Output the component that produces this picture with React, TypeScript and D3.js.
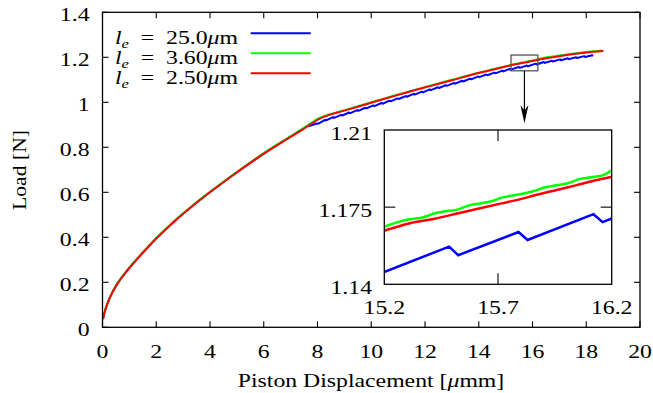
import React from "react";
import * as d3 from "d3";

// ---------- data ----------
const xTicks = [0, 2, 4, 6, 8, 10, 12, 14, 16, 18, 20];
const yTicks = [0, 0.2, 0.4, 0.6, 0.8, 1, 1.2, 1.4];
const yTickLabels = ["0", "0.2", "0.4", "0.6", "0.8", "1", "1.2", "1.4"];
const insetXTicks = [15.2, 15.7, 16.2];
const insetXLabels = ["15.2", "15.7", "16.2"];
const insetYTicks = [1.14, 1.175, 1.21];
const insetYLabels = ["1.14", "1.175", "1.21"];
const legendLabels = ["25.0", "3.60", "2.50"];

// l_e = 25.0 µm
const blue: [number, number][] = [
  [0.02, 0.038], [0.06, 0.06], [0.12, 0.085], [0.25, 0.1265], [0.4, 0.164], [0.55, 0.194],
  [0.7, 0.22], [0.9, 0.251], [1.15, 0.286], [1.5, 0.3326], [2.02, 0.3986], [2.8, 0.486],
  [3.63, 0.568], [4.87, 0.679], [6.11, 0.782], [6.98, 0.847], [7.47, 0.883], [7.68, 0.899],
  [7.72, 0.895], [7.98, 0.906], [8.02, 0.9042], [8.28, 0.9222], [8.32, 0.9194], [8.58, 0.9342],
  [8.62, 0.9311], [8.88, 0.9444], [8.92, 0.9413], [9.18, 0.9548], [9.22, 0.9517], [9.48, 0.9653],
  [9.52, 0.9622], [9.78, 0.9758], [9.82, 0.9727], [10.08, 0.9863], [10.12, 0.9832], [10.38, 0.9968],
  [10.42, 0.9937], [10.68, 1.0073], [10.72, 1.0042], [10.98, 1.0178], [11.02, 1.0147], [11.28, 1.0277],
  [11.32, 1.0245], [11.58, 1.0375], [11.62, 1.0343], [11.88, 1.0474], [11.92, 1.0442], [12.18, 1.0572],
  [12.22, 1.054], [12.48, 1.0668], [12.52, 1.0636], [12.78, 1.0764], [12.82, 1.0732], [13.08, 1.0861],
  [13.12, 1.0828], [13.38, 1.0957], [13.42, 1.0924], [13.68, 1.1053], [13.72, 1.102], [13.98, 1.1149],
  [14.02, 1.1116], [14.28, 1.1235], [14.32, 1.1201], [14.58, 1.1321], [14.62, 1.1287], [14.88, 1.1407],
  [14.92, 1.1373], [15.15, 1.1485], [15.19, 1.1452], [15.485, 1.1571], [15.525, 1.1532], [15.79, 1.1637],
  [15.83, 1.1601], [16.12, 1.1718], [16.16, 1.1682], [16.42, 1.1788], [16.46, 1.1751], [16.72, 1.1848],
  [16.76, 1.1811], [17.02, 1.1908], [17.06, 1.187], [17.32, 1.1956], [17.36, 1.1918], [17.62, 1.2004],
  [17.66, 1.1966], [17.92, 1.2052], [17.96, 1.2014], [18.22, 1.2089], [18.26, 1.2075],
];

// l_e = 3.60 µm
const green: [number, number][] = [
  [0.02, 0.038], [0.06, 0.06], [0.12, 0.085], [0.25, 0.1265], [0.4, 0.164], [0.55, 0.194],
  [0.7, 0.22], [0.9, 0.251], [1.15, 0.286], [1.5, 0.3326], [2.02, 0.3986], [2.8, 0.486],
  [3.63, 0.568], [4.87, 0.679], [6.11, 0.783], [6.98, 0.848], [7.47, 0.885], [7.8, 0.911],
  [8.0, 0.926], [8.15, 0.934], [8.47, 0.947], [9.0, 0.965], [10.0, 1.0], [11.0, 1.035],
  [12.19, 1.074], [13.0, 1.1], [14.0, 1.132], [14.6, 1.149],
  [15.2, 1.1661], [15.262, 1.1683], [15.313, 1.1695], [15.372, 1.1704], [15.415, 1.172],
  [15.467, 1.1731], [15.525, 1.174], [15.569, 1.1757], [15.621, 1.1767], [15.679, 1.1779],
  [15.716, 1.1793], [15.782, 1.1806], [15.855, 1.1822], [15.899, 1.1838], [15.958, 1.1849],
  [16.014, 1.1861], [16.053, 1.1876], [16.119, 1.1887], [16.163, 1.1895], [16.2, 1.1915],
  [17.0, 1.2075], [18.0, 1.2235], [18.6, 1.23],
];

// l_e = 2.50 µm
const red: [number, number][] = [
  [0.02, 0.036], [0.06, 0.058], [0.12, 0.083], [0.25, 0.1245], [0.4, 0.162], [0.55, 0.192],
  [0.7, 0.218], [0.9, 0.249], [1.15, 0.284], [1.5, 0.3306], [2.02, 0.3966], [2.8, 0.484],
  [3.63, 0.566], [4.87, 0.677], [6.11, 0.78], [6.98, 0.845], [7.47, 0.881], [7.8, 0.906],
  [8.0, 0.922], [8.15, 0.931], [8.47, 0.945], [9.0, 0.963], [10.0, 0.998], [11.0, 1.033],
  [12.19, 1.072], [13.0, 1.098], [14.0, 1.13], [14.6, 1.147],
  [15.2, 1.1643], [15.313, 1.1677], [15.415, 1.1696], [15.525, 1.1722], [15.621, 1.1745],
  [15.716, 1.1767], [15.782, 1.1782], [15.87, 1.1806], [15.958, 1.1828], [16.046, 1.185],
  [16.134, 1.1873], [16.2, 1.1888],
  [17.0, 1.205], [18.0, 1.221], [18.64, 1.228],
];

const series = [
  { data: blue, color: "#0000ff", curve: d3.curveLinear },
  { data: green, color: "#00ff00", curve: d3.curveMonotoneX },
  { data: red, color: "#ff0000", curve: d3.curveMonotoneX },
];

// ---------- layout ----------
const W = 653;
const H = 393;
const FONT = '"Liberation Serif", "DejaVu Serif", "Times New Roman", serif';
const FS = 19;
const SX = 1.25;

const x = d3.scaleLinear().domain([0, 20]).range([102.5, 640]);
const y = d3.scaleLinear().domain([0, 1.4]).range([327.3, 12.3]);
const ix = d3.scaleLinear().domain([15.2, 16.2]).range([384.3, 611.7]);
const iy = d3.scaleLinear().domain([1.14, 1.21]).range([284.3, 130]);

function Txt(props: {
  x: number; y: number; anchor?: string; rotate?: number; sx?: number; children: React.ReactNode;
}) {
  const { anchor = "middle", rotate = 0, sx = SX } = props;
  return (
    <g transform={`translate(${props.x},${props.y}) rotate(${rotate}) scale(${sx},1)`}>
      <text textAnchor={anchor as any} style={{ fontFamily: FONT, fontSize: FS }} fill="#000">
        {props.children}
      </text>
    </g>
  );
}

export default function App() {
  const [x0, x1] = x.range();
  const [y0, y1] = y.range();
  const [ix0, ix1] = ix.range();
  const [iy0, iy1] = iy.range();
  const tick = 6;
  const itick = 11;

  const mainLine = (s: any) =>
    d3.line<[number, number]>().x((d) => x(d[0])).y((d) => y(d[1])).curve(s.curve)(s.data) || "";
  const insetLine = (s: any) =>
    d3.line<[number, number]>().x((d) => ix(d[0])).y((d) => iy(d[1])).curve(s.curve)(s.data) || "";

  const bx0 = x(15.2), bx1 = x(16.2), by0 = y(1.21), by1 = y(1.14);
  const ax = x(15.7);
  const tipY = 123.3;

  return (
    <svg width={W} height={H} style={{ position: "absolute", left: 0, top: 0, background: "#fff", fontFamily: FONT }}>
      <rect x={0} y={0} width={W} height={H} fill="#fff" />
      <defs>
        <clipPath id="mainClip">
          <rect x={x0} y={y1} width={x1 - x0} height={y0 - y1} />
        </clipPath>
        <clipPath id="insetClip">
          <rect x={ix0} y={iy1} width={ix1 - ix0} height={iy0 - iy1} />
        </clipPath>
      </defs>

      {/* main curves */}
      <g clipPath="url(#mainClip)">
        {series.map((s, i) => (
          <path key={i} d={mainLine(s)} fill="none" stroke={s.color} strokeWidth={2} strokeLinejoin="round" />
        ))}
      </g>

      {/* main frame & ticks */}
      <rect x={x0} y={y1} width={x1 - x0} height={y0 - y1} fill="none" stroke="#000" strokeWidth={1.3} />
      {xTicks.map((t) => (
        <g key={"xt" + t}>
          <line x1={x(t)} x2={x(t)} y1={y0} y2={y0 - tick} stroke="#000" strokeWidth={1.1} />
          <line x1={x(t)} x2={x(t)} y1={y1} y2={y1 + tick} stroke="#000" strokeWidth={1.1} />
          <Txt x={x(t)} y={358}>{String(t)}</Txt>
        </g>
      ))}
      {yTicks.map((t, i) => (
        <g key={"yt" + t}>
          <line x1={x0} x2={x0 + tick} y1={y(t)} y2={y(t)} stroke="#000" strokeWidth={1.1} />
          <line x1={x1} x2={x1 - tick} y1={y(t)} y2={y(t)} stroke="#000" strokeWidth={1.1} />
          <Txt x={89.5} y={y(t) + 9} anchor="end">{yTickLabels[i]}</Txt>
        </g>
      ))}

      {/* axis titles */}
      <Txt x={371} y={387}>
        Piston Displacement [<tspan fontStyle="italic">μ</tspan>mm]
      </Txt>
      <Txt x={26} y={170} rotate={-90} sx={1.14}>Load [N]</Txt>

      {/* legend */}
      {series.map((s, i) => {
        const ly = 33.3 + i * 20;
        return (
          <g key={"lg" + i}>
            <line x1={250.7} x2={310.7} y1={ly} y2={ly} stroke={s.color} strokeWidth={2} />
            <Txt x={238} y={ly + 11} anchor="end">
              <tspan fontStyle="italic">l</tspan>
              <tspan fontStyle="italic" fontSize={FS * 0.7} dy={3.5}>e</tspan>
              <tspan dy={-3.5}>{"\u2002=\u2002"}{legendLabels[i]}</tspan>
              <tspan fontStyle="italic">μ</tspan>
              <tspan>m</tspan>
            </Txt>
          </g>
        );
      })}

      {/* zoom box & arrow */}
      <rect x={bx0} y={by0} width={bx1 - bx0} height={by1 - by0} fill="none" stroke="#555" strokeWidth={1.3} />
      <line x1={ax} x2={ax} y1={by1} y2={tipY - 8} stroke="#000" strokeWidth={1.2} />
      <path d={`M${ax},${tipY} L${ax - 4},${tipY - 18} L${ax},${tipY - 13} L${ax + 4},${tipY - 18} Z`} fill="#000" />

      {/* inset */}
      <rect x={ix0} y={iy1} width={ix1 - ix0} height={iy0 - iy1} fill="#fff" />
      <g clipPath="url(#insetClip)">
        {series.map((s, i) => (
          <path key={i} d={insetLine(s)} fill="none" stroke={s.color} strokeWidth={2.5} strokeLinejoin="miter" />
        ))}
      </g>
      <rect x={ix0} y={iy1} width={ix1 - ix0} height={iy0 - iy1} fill="none" stroke="#000" strokeWidth={1.3} />
      {insetXTicks.map((t, i) => (
        <g key={"ixt" + t}>
          {i === 1 && (
            <>
              <line x1={ix(t)} x2={ix(t)} y1={iy0} y2={iy0 - itick} stroke="#000" strokeWidth={1.1} />
              <line x1={ix(t)} x2={ix(t)} y1={iy1} y2={iy1 + itick} stroke="#000" strokeWidth={1.1} />
            </>
          )}
          <Txt x={ix(t)} y={314}>{insetXLabels[i]}</Txt>
        </g>
      ))}
      {insetYTicks.map((t, i) => (
        <g key={"iyt" + t}>
          {i === 1 && (
            <>
              <line x1={ix0} x2={ix0 + itick} y1={iy(t)} y2={iy(t)} stroke="#000" strokeWidth={1.1} />
              <line x1={ix1} x2={ix1 - itick} y1={iy(t)} y2={iy(t)} stroke="#000" strokeWidth={1.1} />
            </>
          )}
          <Txt x={372} y={iy(t) + 9.5} anchor="end">{insetYLabels[i]}</Txt>
        </g>
      ))}
    </svg>
  );
}
